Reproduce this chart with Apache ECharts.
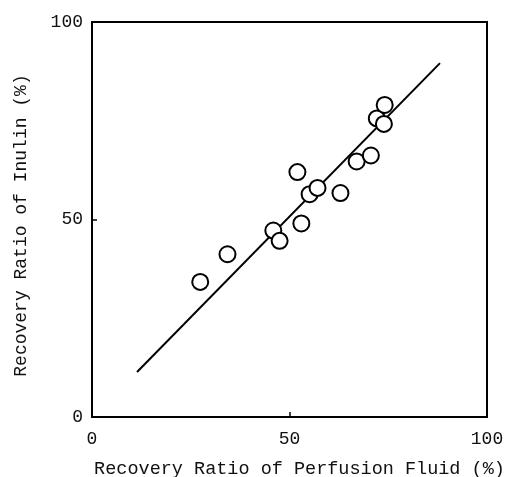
<!DOCTYPE html>
<html>
<head>
<meta charset="utf-8">
<script src="https://cdn.jsdelivr.net/npm/echarts@6/dist/echarts.min.js"></script>
<style>
html,body{margin:0;padding:0;background:#fff;}
#chart{width:515px;height:477px;}
</style>
</head>
<body>
<div id="chart"></div>
<script>
// Data
var perfusionRatio = [27.4, 34.3, 45.9, 47.5, 52.0, 53.0, 55.1, 57.1, 62.9, 67.0, 70.6, 72.1, 73.9, 74.1];
var inulinRatio    = [34.2, 41.2, 47.2, 44.6, 62.0, 49.0, 56.4, 58.0, 56.7, 64.7, 66.2, 75.6, 74.2, 79.0];
var fitLineX = [11.4, 88.1];
var fitLineY = [11.4, 89.6];
var xTicks = [0, 50, 100];
var yTicks = [0, 50, 100];
var xTitle = 'Recovery Ratio of Perfusion Fluid (%)';
var yTitle = 'Recovery Ratio of Inulin (%)';

var points = perfusionRatio.map(function (v, i) { return [v, inulinRatio[i]]; });
var linePts = fitLineX.map(function (v, i) { return [v, fitLineY[i]]; });

var font = "'Liberation Mono', 'DejaVu Sans Mono', monospace";
var chart = echarts.init(document.getElementById('chart'), null, {renderer: 'canvas'});
chart.setOption({
  backgroundColor: '#fff',
  animation: false,
  grid: {left: 92, right: 28, top: 22, bottom: 60, show: true, borderColor: '#000', borderWidth: 2, backgroundColor: 'transparent', containLabel: false, outerBoundsMode: 'none'},
  xAxis: {
    type: 'value', min: xTicks[0], max: xTicks[xTicks.length - 1], interval: xTicks[1] - xTicks[0],
    name: xTitle, nameLocation: 'middle', nameGap: 43,
    nameTextStyle: {fontFamily: font, fontSize: 18.5, color: '#111', padding: [0, 0, 0, 20]},
    axisLine: {lineStyle: {color: '#000', width: 2}},
    axisTick: {inside: true, length: 5, lineStyle: {color: '#000', width: 1.5}},
    axisLabel: {fontFamily: font, fontSize: 18, color: '#111', margin: 13},
    splitLine: {show: false}
  },
  yAxis: {
    type: 'value', min: yTicks[0], max: yTicks[yTicks.length - 1], interval: yTicks[1] - yTicks[0],
    name: yTitle, nameLocation: 'middle', nameGap: 62,
    nameTextStyle: {fontFamily: font, fontSize: 18, color: '#111', padding: [0, 12, 0, 0]},
    axisLine: {lineStyle: {color: '#000', width: 2}},
    axisTick: {inside: true, length: 5, lineStyle: {color: '#000', width: 1.5}},
    axisLabel: {fontFamily: font, fontSize: 18, color: '#111', margin: 9},
    splitLine: {show: false}
  },
  series: [
    {
      type: 'line', data: linePts, showSymbol: false, symbol: 'none',
      lineStyle: {color: '#000', width: 2}, z: 2
    },
    {
      type: 'scatter', data: points, symbol: 'circle', symbolSize: 16,
      itemStyle: {color: '#fff', borderColor: '#000', borderWidth: 2, opacity: 1}, z: 3
    }
  ]
});
</script>
</body>
</html>
